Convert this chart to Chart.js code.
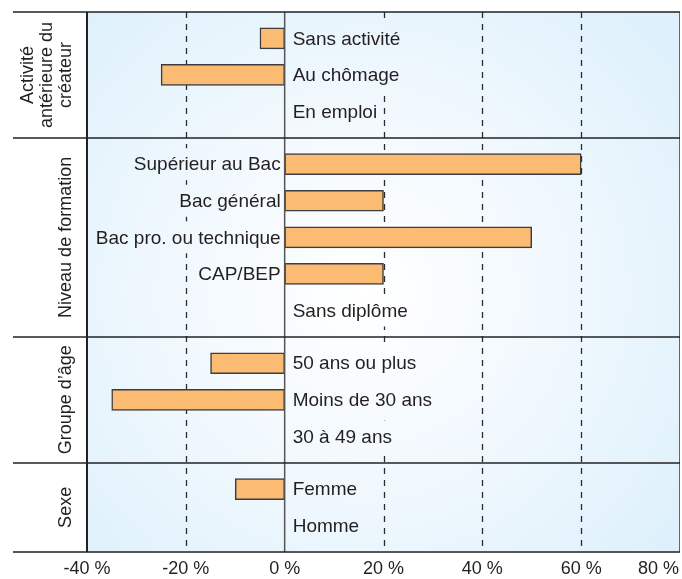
<!DOCTYPE html>
<html lang="fr">
<head>
<meta charset="utf-8">
<title>Créateurs d'entreprise</title>
<script src="https://cdn.jsdelivr.net/npm/chart.js@4.4.1/dist/chart.umd.min.js"></script>
<style>
  html, body { margin: 0; padding: 0; background: #fff; }
  #wrap { width: 682px; height: 579px; }
</style>
</head>
<body>
<div id="wrap"><canvas id="chart" width="682" height="579"></canvas></div>
<script>
// Valeurs (en %)
const groupTitles = [['Activité', 'antérieure du', 'créateur'], ['Niveau de formation'], ['Groupe d’âge'], ['Sexe']];
const activiteLabels = ['Sans activité', 'Au chômage', 'En emploi'];
const activiteValues = [-5, -25, 0];
const formationLabels = ['Supérieur au Bac', 'Bac général', 'Bac pro. ou technique', 'CAP/BEP', 'Sans diplôme'];
const formationValues = [60, 20, 50, 20, 0];
const ageLabels = ['50 ans ou plus', 'Moins de 30 ans', '30 à 49 ans'];
const ageValues = [-15, -35, 0];
const sexeLabels = ['Femme', 'Homme'];
const sexeValues = [-10, 0];
const tickValues = [-40, -20, 0, 20, 40, 60, 80];
const tickLabels = ['-40 %', '-20 %', '0 %', '20 %', '40 %', '60 %', '80 %'];

const groupLabels = [activiteLabels, formationLabels, ageLabels, sexeLabels];
const groupValues = [activiteValues, formationValues, ageValues, sexeValues];

const FONT = '"Liberation Sans", Arial, sans-serif';
const TEXT = '#231f20';

// Position de chaque ligne sur l'axe y (une marge avant et après chaque groupe)
const PAD = 0.72;
const rows = [];
const bounds = [];
let pos = -PAD;
bounds.push(pos);
groupLabels.forEach(function(labels, g){
    pos += PAD;
    labels.forEach(function(lab, i){
        rows.push({label: lab, value: groupValues[g][i], y: pos});
        pos += 1;
    });
    pos += PAD - 1;
    bounds.push(pos);
});

function bgGradient(chart) {
    const a = chart.chartArea;
    const cx = (a.left + a.right) / 2 - 20, cy = (a.top + a.bottom) / 2 + 10;
    const g = chart.ctx.createRadialGradient(cx, cy, 0, cx, cy, 400);
    g.addColorStop(0, '#ffffff');
    g.addColorStop(0.45, '#f2f9fe');
    g.addColorStop(1, '#ddf0fb');
    return g;
}

const decor = {
    id: 'decor',
    beforeDraw: function(chart) {
        const ctx = chart.ctx, a = chart.chartArea, xs = chart.scales.x;
        ctx.save();
        ctx.fillStyle = '#fff';
        ctx.fillRect(0, 0, chart.width, chart.height);
        ctx.fillStyle = bgGradient(chart);
        ctx.fillRect(a.left, a.top, a.right - a.left, a.bottom - a.top);
        // lignes pointillées
        ctx.strokeStyle = '#2b2b2b';
        ctx.lineWidth = 1.3;
        ctx.setLineDash([6, 6]);
        tickValues.forEach(function(v){
            if (v === 0 || v === xs.min || v === xs.max) return;
            const x = Math.round(xs.getPixelForValue(v)) + 0.5;
            ctx.beginPath();
            ctx.moveTo(x, a.top);
            ctx.lineTo(x, a.bottom);
            ctx.stroke();
        });
        ctx.restore();
    },
    afterDatasetsDraw: function(chart) {
        const ctx = chart.ctx, a = chart.chartArea, xs = chart.scales.x, ys = chart.scales.y;
        const x0 = xs.getPixelForValue(0);
        const grad = bgGradient(chart);
        ctx.save();
        // libellés des catégories à côté de l'axe zéro
        ctx.font = '19px ' + FONT;
        ctx.textBaseline = 'middle';
        rows.forEach(function(r){
            const y = ys.getPixelForValue(r.y);
            const w = ctx.measureText(r.label).width;
            let tx;
            if (r.value > 0) {
                ctx.textAlign = 'right';
                tx = x0 - 4;
                ctx.fillStyle = grad;
                ctx.fillRect(tx - w - 3, y - 16, w + 5, 32);
            } else {
                ctx.textAlign = 'left';
                tx = x0 + 8;
                ctx.fillStyle = grad;
                ctx.fillRect(tx - 3, y - 16, w + 6, 32);
            }
            ctx.fillStyle = TEXT;
            ctx.fillText(r.label, tx, y + 1);
        });
        // axe zéro
        ctx.strokeStyle = '#555';
        ctx.lineWidth = 1.5;
        ctx.beginPath();
        ctx.moveTo(x0, a.top);
        ctx.lineTo(x0, a.bottom);
        ctx.stroke();
        // bord droit
        ctx.strokeStyle = '#666';
        ctx.lineWidth = 1;
        ctx.beginPath();
        ctx.moveTo(a.right - 0.5, a.top);
        ctx.lineTo(a.right - 0.5, a.bottom);
        ctx.stroke();
        // séparateurs horizontaux
        ctx.strokeStyle = '#222';
        ctx.lineWidth = 1.5;
        bounds.forEach(function(b){
            const y = Math.round(ys.getPixelForValue(b));
            ctx.beginPath();
            ctx.moveTo(13, y);
            ctx.lineTo(a.right, y);
            ctx.stroke();
        });
        // bord gauche
        ctx.lineWidth = 2;
        ctx.beginPath();
        ctx.moveTo(a.left, a.top);
        ctx.lineTo(a.left, a.bottom);
        ctx.stroke();
        // titres des groupes (verticaux)
        ctx.fillStyle = TEXT;
        ctx.font = '18px ' + FONT;
        ctx.textAlign = 'center';
        ctx.textBaseline = 'alphabetic';
        groupTitles.forEach(function(lines, g){
            const yc = (ys.getPixelForValue(bounds[g]) + ys.getPixelForValue(bounds[g + 1])) / 2;
            ctx.save();
            ctx.translate(71, yc);
            ctx.rotate(-Math.PI / 2);
            lines.forEach(function(t, i){
                ctx.fillText(t, 0, -(lines.length - 1 - i) * 19);
            });
            ctx.restore();
        });
        // graduations
        ctx.textBaseline = 'middle';
        tickValues.forEach(function(v, i){
            const x = xs.getPixelForValue(v);
            const w = ctx.measureText(tickLabels[i]).width;
            if (x + w / 2 > chart.width - 3) {
                ctx.textAlign = 'right';
                ctx.fillText(tickLabels[i], chart.width - 3, 569);
            } else {
                ctx.textAlign = 'center';
                ctx.fillText(tickLabels[i], x, 569);
            }
        });
        ctx.restore();
    }
};

new Chart(document.getElementById('chart'), {
    type: 'bar',
    data: {
        datasets: [{
            data: rows.map(function(r){ return {x: r.value, y: r.y}; }),
            backgroundColor: '#fbbb73',
            borderColor: '#3d3d3d',
            borderWidth: 1.5,
            borderSkipped: false,
            barThickness: 21
        }]
    },
    options: {
        indexAxis: 'y',
        responsive: false,
        animation: false,
        layout: { padding: { left: 87, right: 2, top: 12, bottom: 27 } },
        plugins: { legend: { display: false }, tooltip: { enabled: false } },
        scales: {
            x: { type: 'linear', min: -40, max: 80, display: false },
            y: { type: 'linear', min: bounds[0], max: bounds[bounds.length - 1], reverse: true, offset: false, display: false }
        }
    },
    plugins: [decor]
});
</script>
</body>
</html>
